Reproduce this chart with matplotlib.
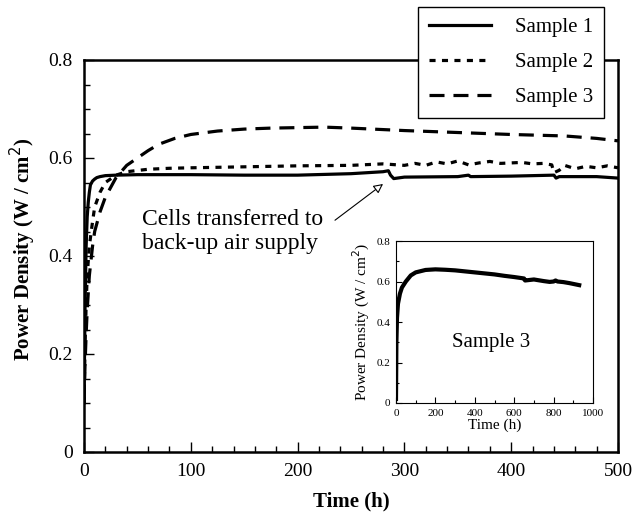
import matplotlib.pyplot as plt
from matplotlib.ticker import MultipleLocator, FuncFormatter

plt.rcParams['font.family'] = ['Liberation Serif', 'DejaVu Serif']

# Sample 1
t1 = [0, 1, 2, 3, 4, 5, 6, 8, 10, 12, 15, 20, 30, 50, 80, 100, 150, 200, 250,
      280, 285, 287, 290, 300, 350, 360, 362, 400, 440, 442, 445, 480, 500]
p1 = [0.10, 0.30, 0.42, 0.48, 0.51, 0.53, 0.545, 0.553, 0.557, 0.560, 0.562,
      0.564, 0.565, 0.566, 0.566, 0.566, 0.565, 0.565, 0.568, 0.572, 0.574,
      0.565, 0.558, 0.561, 0.562, 0.565, 0.562, 0.563, 0.565, 0.559, 0.562,
      0.562, 0.559]

# Sample 2
t2 = [0, 1, 2, 3, 5, 8, 10, 15, 20, 30, 40, 60, 80, 100, 150, 200, 250, 280,
      300, 310, 320, 330, 340, 350, 360, 370, 380, 390, 400, 410, 420, 430,
      438, 440, 445, 450, 460, 470, 480, 490, 500]
p2 = [0.10, 0.22, 0.30, 0.36, 0.42, 0.47, 0.50, 0.53, 0.55, 0.565, 0.572,
      0.577, 0.579, 0.580, 0.582, 0.584, 0.585, 0.588, 0.585, 0.589, 0.585,
      0.592, 0.588, 0.594, 0.586, 0.590, 0.593, 0.589, 0.590, 0.591, 0.588,
      0.589, 0.586, 0.570, 0.575, 0.585, 0.578, 0.583, 0.580, 0.584, 0.580]

# Sample 3
t3 = [0, 1, 2, 3, 5, 8, 10, 15, 20, 30, 40, 50, 60, 70, 85, 100, 125, 150,
      175, 200, 225, 250, 300, 350, 400, 450, 480, 500]
p3 = [0.10, 0.18, 0.24, 0.29, 0.36, 0.42, 0.45, 0.49, 0.52, 0.56, 0.585,
      0.600, 0.615, 0.628, 0.640, 0.648, 0.655, 0.659, 0.661, 0.662, 0.663,
      0.661, 0.656, 0.652, 0.648, 0.645, 0.640, 0.635]

# Sample 3, long run
t3_long = [0, 2, 5, 10, 20, 30, 50, 75, 100, 150, 200, 250, 300, 350, 400, 450,
           500, 550, 600, 650, 655, 700, 750, 780, 800, 810, 820, 850, 880, 900,
           930]
p3_long = [0.02, 0.30, 0.42, 0.49, 0.54, 0.57, 0.60, 0.63, 0.645, 0.657,
           0.660, 0.658, 0.655, 0.650, 0.645, 0.640, 0.635, 0.628, 0.622,
           0.615, 0.605, 0.610, 0.602, 0.598, 0.600, 0.605, 0.600, 0.597,
           0.592, 0.588, 0.582]


def tick_fmt(v, _):
    return '0' if v == 0 else f'{v:.1f}'


fig = plt.figure(figsize=(6.32, 5.15), dpi=100)
ax = fig.add_axes([84 / 632, 63 / 515, 534 / 632, 392 / 515])

ax.plot(t1, p1, color='black', lw=2.3, ls='-', label='Sample 1')
ax.plot(t2, p2, color='black', lw=2.3, ls=(0, (1.9, 2.0)), label='Sample 2')
ax.plot(t3, p3, color='black', lw=2.3, ls=(0, (4.7, 2.8)), label='Sample 3')

ax.set_xlim(0, 500)
ax.set_ylim(0, 0.8)
ax.xaxis.set_major_locator(MultipleLocator(100))
ax.xaxis.set_minor_locator(MultipleLocator(20))
ax.yaxis.set_major_locator(MultipleLocator(0.2))
ax.yaxis.set_minor_locator(MultipleLocator(0.05))
ax.yaxis.set_major_formatter(FuncFormatter(tick_fmt))
ax.tick_params(which='both', direction='in', top=False, right=False,
               labelsize=14, pad=8)
ax.tick_params(which='major', length=7, width=1)
ax.tick_params(which='minor', length=4, width=1)
for s in ax.spines.values():
    s.set_linewidth(1.8)

ax.set_xlabel('Time (h)', fontsize=15, fontweight='bold', labelpad=8)
ax.set_ylabel('Power Density (W / cm$^2$)', fontsize=15, fontweight='bold')
ax.yaxis.set_label_coords(-0.086, 0.518)

leg = ax.legend(loc='upper right', bbox_to_anchor=(604 / 632, 1 - 7 / 515),
                bbox_transform=fig.transFigure, borderaxespad=0,
                fontsize=15, frameon=True, fancybox=False, edgecolor='black',
                handlelength=3.0, borderpad=0.5, labelspacing=0.75,
                handletextpad=1.15)
leg.get_frame().set_linewidth(1.0)
leg.get_frame().set_alpha(1)

ax.text(54, 0.450, 'Cells transferred to\nback-up air supply', fontsize=17,
        ha='left', va='center', linespacing=1.15)
ax.annotate('', xy=(280, 0.547), xytext=(235, 0.473),
            arrowprops=dict(arrowstyle='-|>', color='black', lw=0.8,
                            fc='white', mutation_scale=14,
                            shrinkA=0, shrinkB=0))

# inset with the long run of Sample 3
ins = fig.add_axes([396 / 632, 1 - 403 / 515, 197 / 632, 162 / 515])
ins.plot(t3_long, p3_long, color='black', lw=3.0)
ins.set_xlim(0, 1000)
ins.set_ylim(0, 0.8)
ins.xaxis.set_major_locator(MultipleLocator(200))
ins.xaxis.set_minor_locator(MultipleLocator(100))
ins.yaxis.set_major_locator(MultipleLocator(0.2))
ins.yaxis.set_minor_locator(MultipleLocator(0.1))
ins.yaxis.set_major_formatter(FuncFormatter(tick_fmt))
ins.tick_params(which='both', direction='in', top=False, right=False,
                labelsize=8, pad=4)
ins.tick_params(which='major', length=4, width=0.8)
ins.tick_params(which='minor', length=2, width=0.8)
for s in ins.spines.values():
    s.set_linewidth(0.8)
ins.set_xlabel('Time (h)', fontsize=11, labelpad=1)
ins.set_ylabel('Power Density (W / cm$^2$)', fontsize=11, labelpad=3)
ins.text(482, 0.30, 'Sample 3', fontsize=15, ha='center', va='center')

fig.savefig('out.png', dpi=100)
